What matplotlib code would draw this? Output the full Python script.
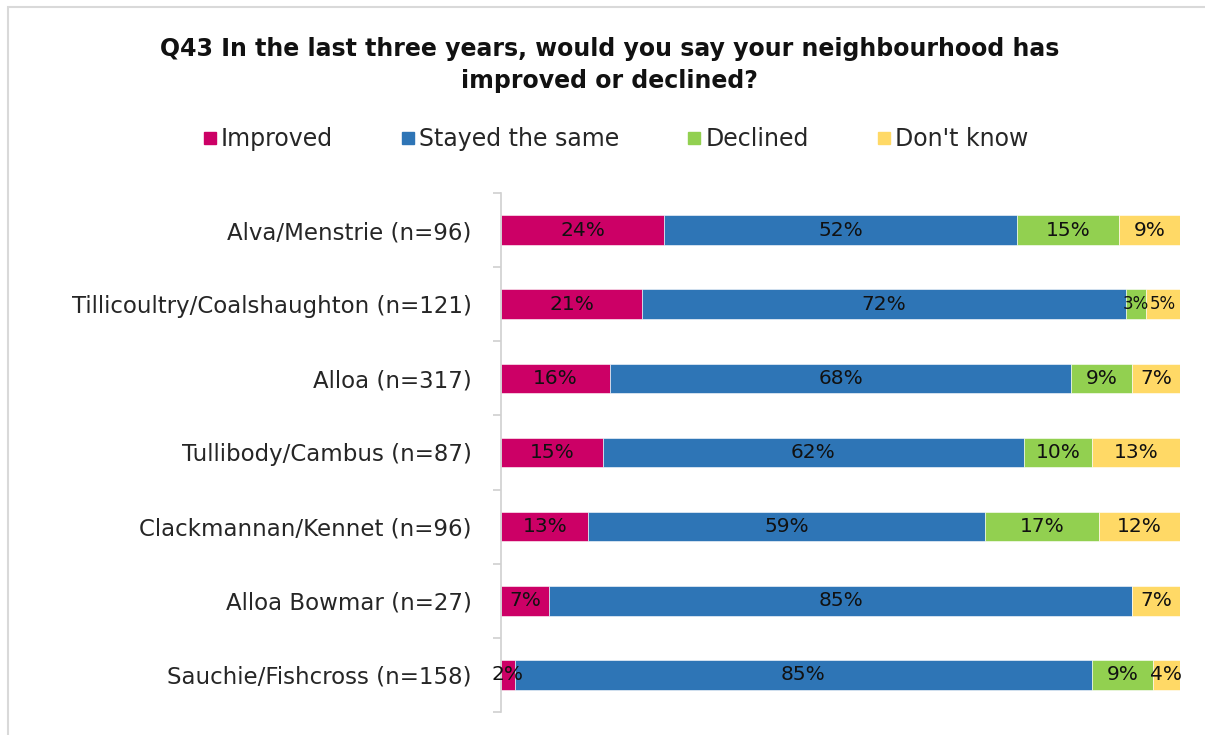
import matplotlib
matplotlib.use("Agg")
import matplotlib.pyplot as plt
from matplotlib.patches import Rectangle
from matplotlib.lines import Line2D
import numpy as np

plt.rcParams['font.family'] = ['DejaVu Sans']

areas = [
    "Alva/Menstrie (n=96)",
    "Tillicoultry/Coalshaughton (n=121)",
    "Alloa (n=317)",
    "Tullibody/Cambus (n=87)",
    "Clackmannan/Kennet (n=96)",
    "Alloa Bowmar (n=27)",
    "Sauchie/Fishcross (n=158)",
]
series_names = ["Improved", "Stayed the same", "Declined", "Don't know"]
improved = [24, 21, 16, 15, 13, 7, 2]
stayed_same = [52, 72, 68, 62, 59, 85, 85]
declined = [15, 3, 9, 10, 17, 0, 9]
dont_know = [9, 5, 7, 13, 12, 7, 4]
colors = ["#CC0066", "#2E75B6", "#92D050", "#FFD966"]

title = "Q43 In the last three years, would you say your neighbourhood has\nimproved or declined?"

fig = plt.figure(figsize=(12.05, 7.35), dpi=100)
fig.patch.set_facecolor("white")

# light chart-area frame
fig.patches.append(Rectangle((8 / 1205, -0.05), 1.2, 1.05 - 7 / 735, transform=fig.transFigure,
                             fill=False, edgecolor="#d9d9d9", linewidth=1.5))

ax = fig.add_axes([501 / 1205, 1 - 712 / 735, (1180 - 501) / 1205, (712 - 193) / 735])

# 100% stacked: each row is scaled to its own total
data = np.array([improved, stayed_same, declined, dont_know], dtype=float)
totals = data.sum(axis=0)
shares = data / totals * 100
# rows where two thin end segments sit side by side get smaller labels
tight_rows = (shares[2] > 0) & (shares[2] < 6) & (shares[3] < 6)
y = np.arange(len(areas))
left = np.zeros(len(areas))
for k, (vals, shr, name, col) in enumerate(zip(data, shares, series_names, colors)):
    ax.barh(y, shr, left=left, height=0.40, color=col, label=name,
            edgecolor="white", linewidth=0.4)
    for yi, v, s, l in zip(y, vals, shr, left):
        if v > 0:
            size = 12 if (k >= 2 and tight_rows[yi]) else 14.5
            ax.text(l + s / 2, yi, f"{int(v)}%", ha="center", va="center",
                    fontsize=size, color="#111111")
    left += shr

ax.set_xlim(0, 100)
ax.set_ylim(len(areas) - 0.5, -0.5)
ax.set_yticks(y)
ax.set_yticklabels(areas, fontsize=16.5, color="#262626")
ax.set_yticks(np.arange(-0.5, len(areas)), minor=True)
ax.tick_params(axis="y", which="major", length=0, pad=21)
ax.tick_params(axis="y", which="minor", length=6, color="#d0d0d0", width=1.2)
ax.set_xticks([])
for side in ["top", "right", "bottom"]:
    ax.spines[side].set_visible(False)
ax.spines["left"].set_color("#d0d0d0")
ax.spines["left"].set_linewidth(1.2)

fig.text(0.506, 1 - 65 / 735, title, ha="center", va="center", fontsize=17,
         fontweight="bold", color="#111111", linespacing=1.45)

handles = [Line2D([0], [0], marker="s", linestyle="none", markersize=9,
                  markerfacecolor=c, markeredgecolor=c) for c in colors]
fig.legend(handles, series_names, loc="center", bbox_to_anchor=(0.511, 1 - 139 / 735),
           ncol=4, frameon=False, fontsize=17, handlelength=0.55, handletextpad=0.2,
           columnspacing=2.9, labelcolor="#262626")

fig.savefig("out.png", dpi=100, facecolor="white")
